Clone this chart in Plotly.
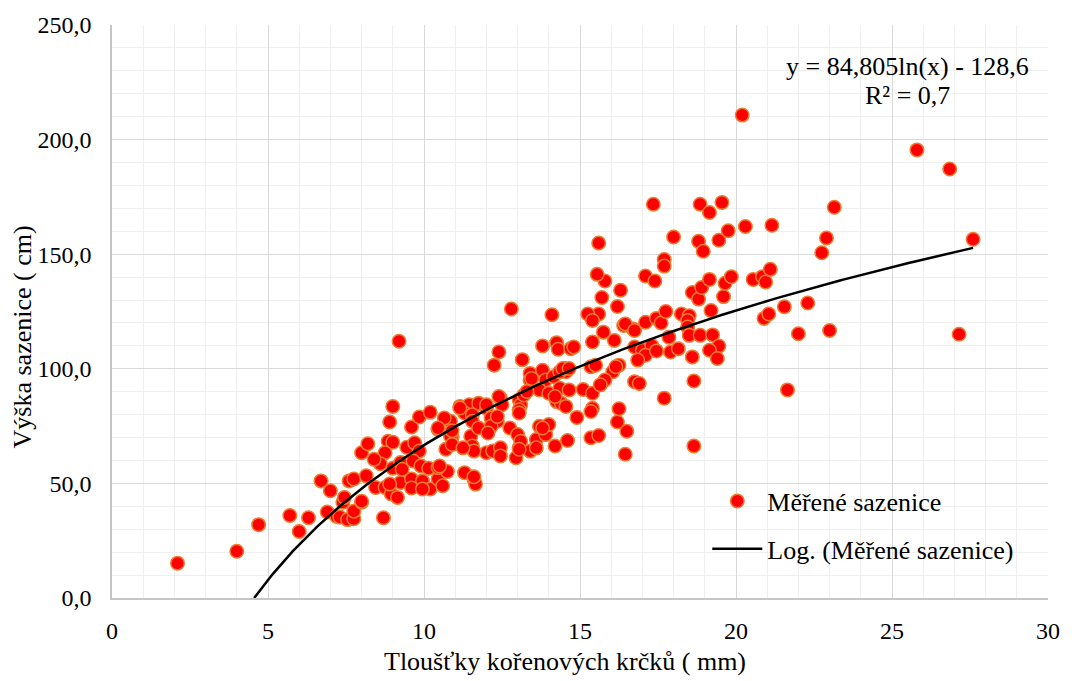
import numpy as np
import plotly.graph_objects as go

# Measured seedlings: root collar diameter (mm) and height (cm)
diameter_mm = [
    2.1, 4.0, 4.7, 5.7, 6.0, 6.3, 6.9, 6.7, 7.0, 7.2, 7.3, 7.55, 7.75, 7.75, 8.0, 7.4, 7.45, 8.0, 7.6, 7.75,
    8.15, 8.0, 8.2, 8.7, 8.45, 8.75, 8.95, 9.15, 9.25, 9.6, 9.95, 10.2, 10.45, 10.75, 10.6, 9.0, 8.9, 9.6, 9.85, 10.2,
    8.85, 9.0, 8.75, 8.6, 8.4, 9.0, 9.25, 9.3, 9.45, 9.7, 9.85, 9.65, 9.9, 10.15, 10.45, 10.45, 10.7, 10.85, 10.65, 10.9,
    9.2, 8.9, 9.6, 9.95, 11.3, 11.6, 11.65, 11.15, 11.45, 11.3, 11.55, 11.5, 11.55, 10.85, 10.9, 11.75, 12.0, 12.3, 12.35, 12.1,
    12.45, 12.5, 13.05, 13.1, 13.05, 12.0, 12.2, 12.45, 12.75, 13.0, 12.95, 13.05, 13.1, 13.4, 13.6, 13.6, 13.7, 13.9, 14.0, 14.2,
    14.6, 14.9, 15.35, 15.6, 16.45, 16.5, 16.2, 16.25, 15.4, 15.35, 12.4, 12.25, 13.15, 13.8, 14.25, 14.3, 14.7, 14.8, 15.4, 15.75,
    16.1, 16.4, 16.7, 13.4, 13.4, 13.8, 13.9, 14.15, 14.5, 14.55, 13.7, 14.0, 14.35, 14.65, 14.25, 14.4, 15.1, 15.4, 15.35, 15.5,
    16.25, 16.05, 15.8, 15.65, 16.75, 16.15, 12.8, 14.1, 17.7, 17.7, 17.1, 17.4, 15.8, 15.55, 16.3, 15.7, 16.2, 15.6, 15.25, 15.4,
    16.45, 16.75, 17.1, 17.45, 17.6, 17.75, 16.75, 17.0, 17.3, 17.1, 17.45, 16.85, 16.9, 17.85, 17.9, 18.15, 18.25, 18.5, 18.45, 18.45,
    18.5, 18.85, 19.25, 19.45, 19.15, 19.4, 18.6, 18.65, 17.7, 18.65, 18.6, 18.8, 18.9, 19.15, 19.6, 19.65, 19.85, 19.2, 20.55, 20.85,
    20.95, 21.1, 20.9, 21.05, 21.55, 22.3, 22.0, 23.0, 21.65, 17.35, 18.85, 19.15, 19.55, 18.0, 18.8, 18.95, 19.45, 19.75, 20.3, 21.15,
    15.6, 23.15, 22.9, 22.75, 20.2, 25.8, 26.85, 27.6, 27.15, 10.45, 10.9, 11.15, 12.0, 12.4, 13.05, 13.2, 13.3, 13.45, 14.35, 14.45,
    14.65, 14.2, 14.55, 11.55, 11.75, 12.15, 12.15, 12.35, 12.05, 13.8, 13.05, 12.45, 11.6, 11.25, 10.5, 11.6,
]
height_cm = [
    15.2, 20.4, 32.0, 36.0, 29.0, 35.0, 37.5, 51.1, 46.8, 35.6, 35.3, 34.2, 34.6, 37.9, 41.8, 41.8, 43.9, 42.2, 51.1, 51.9,
    53.3, 63.4, 67.3, 35.0, 48.2, 48.2, 45.4, 43.9, 50.4, 51.9, 51.1, 47.6, 51.9, 55.2, 49.0, 83.6, 76.8, 74.6, 79.0, 81.0,
    68.4, 68.0, 63.4, 58.6, 60.5, 56.6, 59.1, 56.2, 65.8, 67.7, 64.1, 59.8, 57.6, 56.6, 56.9, 73.5, 64.9, 77.1, 78.5, 70.2,
    112.0, 49.7, 48.0, 47.6, 54.7, 51.9, 49.7, 83.6, 84.3, 80.7, 80.0, 70.6, 66.3, 70.6, 67.0, 85.0, 82.8, 78.5, 77.1, 74.2,
    87.2, 84.3, 86.5, 84.3, 82.1, 63.4, 64.1, 65.5, 74.2, 71.3, 61.2, 65.5, 68.4, 64.1, 69.2, 65.5, 74.9, 71.3, 75.7, 66.3,
    68.7, 78.8, 69.9, 70.9, 62.7, 72.8, 76.8, 82.6, 82.8, 81.4, 107.3, 101.6, 104.0, 110.0, 111.4, 108.5, 108.8, 109.5, 111.7, 116.0,
    112.4, 118.9, 117.4, 98.0, 95.1, 99.4, 95.1, 96.5, 100.1, 98.7, 90.8, 89.3, 91.5, 90.8, 85.7, 85.0, 91.0, 89.3, 100.9, 101.6,
    101.6, 98.7, 95.1, 93.0, 94.4, 100.9, 126.1, 123.6, 147.7, 144.8, 140.5, 138.3, 138.3, 141.2, 134.3, 131.1, 127.2, 123.9, 123.9, 121.1,
    119.6, 116.7, 120.3, 122.0, 120.0, 125.0, 109.5, 108.1, 110.2, 105.9, 107.8, 103.8, 93.6, 113.8, 107.3, 108.8, 123.9, 123.2, 121.1, 118.2,
    114.6, 114.6, 114.8, 109.9, 108.1, 104.5, 105.2, 94.7, 87.2, 66.3, 133.3, 130.4, 135.5, 139.0, 131.5, 137.3, 140.2, 125.4, 139.0, 140.2,
    137.9, 143.4, 122.0, 123.9, 127.1, 128.7, 115.3, 116.7, 90.8, 171.8, 171.8, 168.2, 172.6, 157.5, 155.6, 151.3, 156.1, 160.2, 162.1, 162.6,
    154.9, 170.5, 157.1, 150.6, 210.7, 195.5, 187.2, 156.5, 115.1, 74.2, 73.0, 82.9, 84.3, 87.9, 80.7, 88.6, 90.1, 95.8, 98.7, 100.1,
    100.1, 87.9, 83.6, 77.1, 74.2, 78.5, 74.9, 79.2, 72.0, 74.2, 64.9, 62.0, 64.1, 65.5, 57.6, 52.9,
]

# Logarithmic trendline shown on the chart: y = a*ln(x) + b
trend_a = 84.805
trend_b = -128.6
trend_r2 = 0.7

series_name = "Měřené sazenice"
trend_name = "Log. (Měřené sazenice)"
x_title = "Tloušťky kořenových krčků ( mm)"
y_title = "Výška sazenice ( cm)"

FONT = "Liberation Serif, Times New Roman, serif"

x_start = float(np.exp(-trend_b / trend_a))
x_end = max(diameter_mm)
x_fit = np.linspace(x_start, x_end, 300)
y_fit = trend_a * np.log(x_fit) + trend_b

fig = go.Figure()
fig.add_trace(go.Scatter(
    x=diameter_mm, y=height_cm, mode="markers", name=series_name,
    marker=dict(color="#FF0000", size=13.5, line=dict(color="#ED7D31", width=1.5)),
    legendgroup="a",
))
fig.add_trace(go.Scatter(
    x=x_fit, y=y_fit, mode="lines", name=trend_name,
    line=dict(color="black", width=2.5),
    legendgroup="b",
))

eq_text = f"y = {trend_a:.3f}ln(x) - {abs(trend_b):.1f}".replace(".", ",")
r2_text = f"R² = {trend_r2:.1f}".replace(".", ",")

fig.update_layout(
    width=1072, height=681,
    margin=dict(l=112, r=23, t=20, b=83),
    paper_bgcolor="white", plot_bgcolor="white",
    separators=", ",
    font=dict(family=FONT, size=24, color="black"),
    showlegend=True,
    legend=dict(
        x=0.636, y=0.21, xanchor="left", yanchor="top",
        bgcolor="rgba(0,0,0,0)", borderwidth=0,
        font=dict(family=FONT, size=26, color="black"),
        traceorder="grouped", tracegroupgap=11, itemwidth=50,
    ),
    annotations=[
        dict(text=eq_text, x=0.8495, y=0.927, xref="paper", yref="paper",
             xanchor="center", yanchor="middle", showarrow=False,
             font=dict(family=FONT, size=26, color="black")),
        dict(text=r2_text, x=0.8495, y=0.877, xref="paper", yref="paper",
             xanchor="center", yanchor="middle", showarrow=False,
             font=dict(family=FONT, size=26, color="black")),
        dict(text=x_title, x=0.4835, y=-0.1107, xref="paper", yref="paper",
             xanchor="center", yanchor="middle", showarrow=False,
             font=dict(family=FONT, size=26, color="black")),
        dict(text=y_title, x=-0.096, y=0.455, xref="paper", yref="paper",
             xanchor="center", yanchor="middle", showarrow=False, textangle=-90,
             font=dict(family=FONT, size=26, color="black")),
    ],
)
fig.update_xaxes(
    range=[0, 30], dtick=5, tick0=0, tickformat="d",
    showgrid=True, gridcolor="#d9d9d9", gridwidth=1.3,
    minor=dict(dtick=1, showgrid=True, gridcolor="#efefef", gridwidth=1.3),
    showline=True, linecolor="#c6c6c6", linewidth=1.5,
    zeroline=False, ticks="", ticklabelstandoff=10,
    tickfont=dict(family=FONT, size=24),
)
fig.update_yaxes(
    range=[0, 250], dtick=50, tick0=0, tickformat=".1f",
    showgrid=True, gridcolor="#d9d9d9", gridwidth=1.3,
    minor=dict(dtick=10, showgrid=True, gridcolor="#efefef", gridwidth=1.3),
    showline=True, linecolor="#c6c6c6", linewidth=1.5,
    zeroline=False, ticks="", ticklabelstandoff=14,
    tickfont=dict(family=FONT, size=24),
)

fig.write_html("out.html")
